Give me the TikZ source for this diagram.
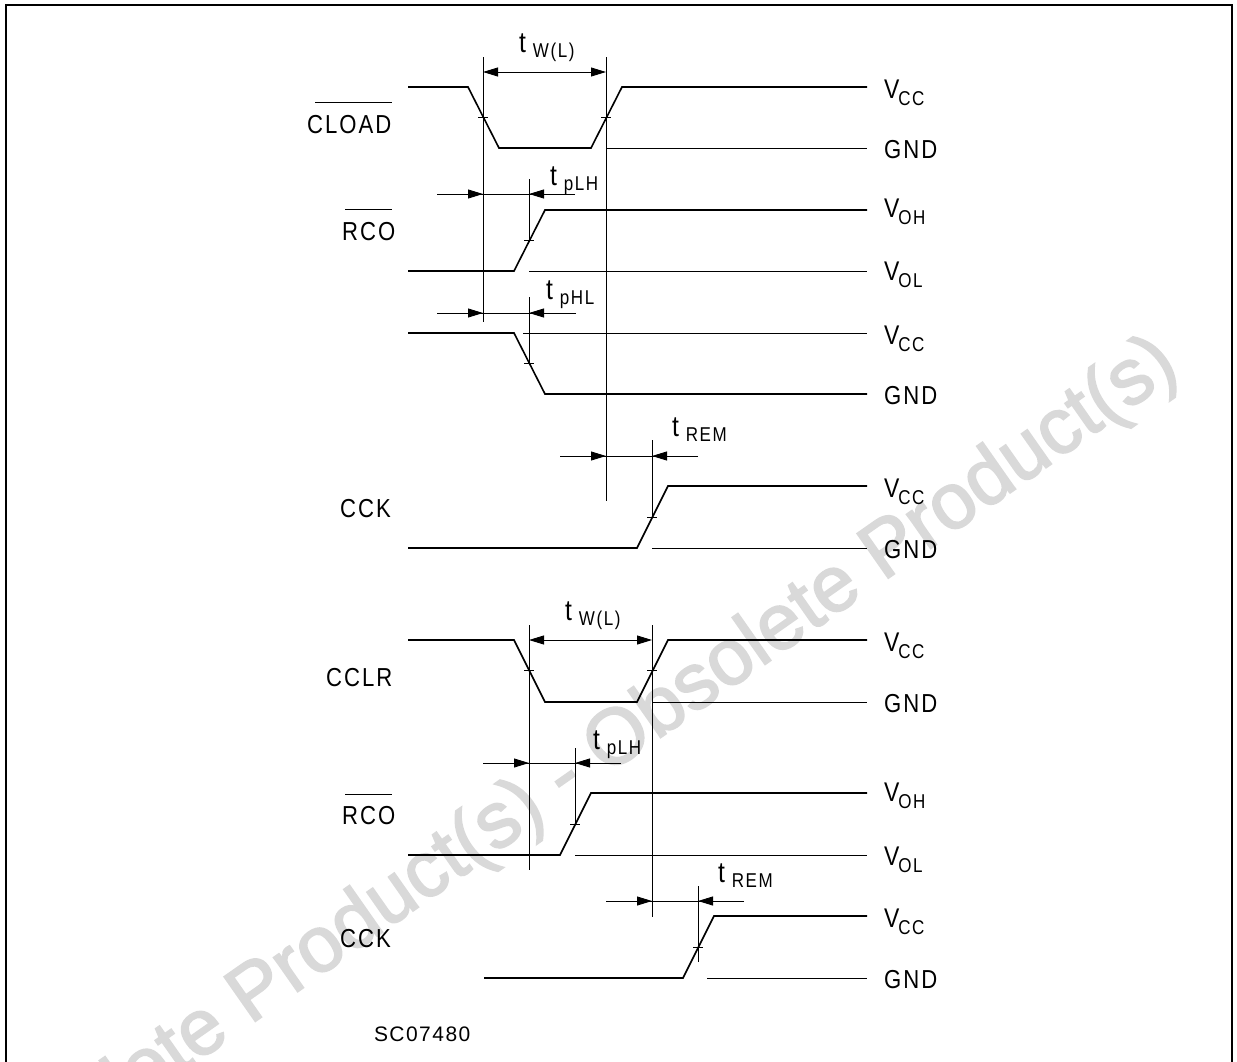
\documentclass[tikz,border=0pt]{standalone}
\usepackage{fontspec}
\usetikzlibrary{arrows.meta}
\setmainfont{Liberation Sans}
\newfontfamily\lblfont[FakeStretch=0.85,LetterSpace=8]{Liberation Sans}
\newfontfamily\codefont[LetterSpace=7]{Liberation Sans}
\newfontfamily\wmfont[FakeBold=2.2]{Liberation Sans}
\newcommand{\bigf}{\lblfont\fontsize{26}{26}\selectfont}
\newcommand{\subf}{\lblfont\fontsize{20}{20}\selectfont}
\newcommand{\vsub}[2]{{\lblfont\fontsize{27}{27}\selectfont V}\hspace{-1pt}\raisebox{-7pt}{\subf #2}}
\newcommand{\tsub}[1]{{\lblfont\fontsize{29}{29}\selectfont t}\hspace{7pt}\raisebox{-5pt}{\subf #1}}
\newcommand{\tdim}[5]{%
  \draw[thin line] (#2,#1) -- (#5,#1);
  \draw[tip line] (#2,#1) -- (#3,#1);
  \draw[tip line] (#5,#1) -- (#4,#1);}
\tikzset{
  frame line/.style={line width=2pt,black},
  signal/.style={line width=1.6pt,black,line join=miter},
  thin line/.style={line width=0.9pt,black},
  tip line/.style={line width=0.9pt,black,-{Triangle[length=15pt,width=9pt]}},
  lab/.style={anchor=base west,inner sep=0pt,outer sep=0pt,text=black},
  wm/.style={anchor=base west,inner sep=0pt,text=black!15,rotate=35,font=\wmfont\fontsize{79}{79}\selectfont}
}
\begin{document}
\begin{tikzpicture}[x=1pt,y=-1pt]
\useasboundingbox (0,0) rectangle (1237,1061);
\clip (0,0) rectangle (1237,1061);
\node[wm] (watermark) at (-27,1219) {Obsolete Product(s) - Obsolete Product(s)};
\draw[frame line] (5.5,1062) -- (5.5,4.5) -- (1232,4.5) -- (1232,1062);

% CLOAD
\draw[signal] (408,87) -- (468,87) -- (499,148) -- (591,148) -- (622,87) -- (867,87);
\draw[thin line] (606,148) -- (867,148);
\draw[thin line] (483,57) -- (483,322);
\draw[thin line] (606,57) -- (606,501);
\draw[thin line] (478,117) -- (488,117);
\draw[thin line] (601,117) -- (611,117);
\draw[tip line] (544,72) -- (483,72);
\draw[tip line] (544,72) -- (606,72);
% RCO 1
\draw[signal] (408,271) -- (514,271) -- (545,210) -- (867,210);
\draw[thin line] (529,271) -- (867,271);
\draw[thin line] (529,179) -- (529,240);
\draw[thin line] (524,240) -- (534,240);
\tdim{194}{437}{483}{529}{575}
% falling
\draw[signal] (408,333) -- (514,333) -- (545,394) -- (867,394);
\draw[thin line] (523,333) -- (867,333);
\draw[thin line] (529,297) -- (529,363);
\draw[thin line] (524,363) -- (534,363);
\tdim{313}{437}{483}{529}{576}
% CCK 1
\draw[signal] (408,548) -- (637,548) -- (668,486) -- (867,486);
\draw[thin line] (652,548) -- (867,548);
\draw[thin line] (652,440) -- (652,517);
\draw[thin line] (647,517) -- (657,517);
\tdim{456}{560}{606}{652}{698}
% CCLR
\draw[signal] (408,640) -- (514,640) -- (545,702) -- (637,702) -- (668,640) -- (867,640);
\draw[thin line] (652,702) -- (867,702);
\draw[thin line] (529,625) -- (529,870);
\draw[thin line] (652,625) -- (652,917);
\draw[thin line] (524,670) -- (534,670);
\draw[thin line] (647,670) -- (657,670);
\draw[tip line] (590,640) -- (529,640);
\draw[tip line] (590,640) -- (652,640);
% RCO 2
\draw[signal] (408,855) -- (560,855) -- (591,793) -- (867,793);
\draw[thin line] (575,855) -- (867,855);
\draw[thin line] (575,748) -- (575,824);
\draw[thin line] (570,824) -- (580,824);
\tdim{763}{483}{529}{575}{621}
% CCK 2
\draw[signal] (484,978) -- (683,978) -- (714,916) -- (867,916);
\draw[thin line] (707,978) -- (867,978);
\draw[thin line] (698,886) -- (698,962);
\draw[thin line] (693,947) -- (703,947);
\tdim{901}{606}{652}{698}{744}

% left labels
\node[lab,font=\bigf] (cload) at (307,133) {CLOAD};
\draw[thin line] (315,102) -- (392,102);
\node[lab,font=\bigf] (rco1) at (342,240) {RCO};
\draw[thin line] (345,209) -- (392,209);
\node[lab,font=\bigf] (cck1) at (340,517) {CCK};
\node[lab,font=\bigf] (cclr) at (326,686) {CCLR};
\node[lab,font=\bigf] (rco2) at (342,824) {RCO};
\draw[thin line] (345,794) -- (392,794);
\node[lab,font=\bigf] (cck2) at (340,947) {CCK};
\node[lab,font=\codefont\fontsize{21}{21}\selectfont] (code) at (374,1041) {SC07480};

% right labels
\node[lab] (r1) at (884,98) {\vsub{V}{CC}};
\node[lab,font=\bigf] (r2) at (884,158) {GND};
\node[lab] (r3) at (884,217) {\vsub{V}{OH}};
\node[lab] (r4) at (884,280) {\vsub{V}{OL}};
\node[lab] (r5) at (884,344) {\vsub{V}{CC}};
\node[lab,font=\bigf] (r6) at (884,404) {GND};
\node[lab] (r7) at (884,497) {\vsub{V}{CC}};
\node[lab,font=\bigf] (r8) at (884,558) {GND};
\node[lab] (r9) at (884,651) {\vsub{V}{CC}};
\node[lab,font=\bigf] (r10) at (884,712) {GND};
\node[lab] (r11) at (884,801) {\vsub{V}{OH}};
\node[lab] (r12) at (884,865) {\vsub{V}{OL}};
\node[lab] (r13) at (884,927) {\vsub{V}{CC}};
\node[lab,font=\bigf] (r14) at (884,988) {GND};

% timing labels
\node[lab] (t1) at (519,52) {\tsub{W(L)}};
\node[lab] (t2) at (550,185) {\tsub{pLH}};
\node[lab] (t3) at (546,299) {\tsub{pHL}};
\node[lab] (t4) at (672,436) {\tsub{REM}};
\node[lab] (t5) at (565,620) {\tsub{W(L)}};
\node[lab] (t6) at (593,749) {\tsub{pLH}};
\node[lab] (t7) at (718,882) {\tsub{REM}};
\end{tikzpicture}
\end{document}
